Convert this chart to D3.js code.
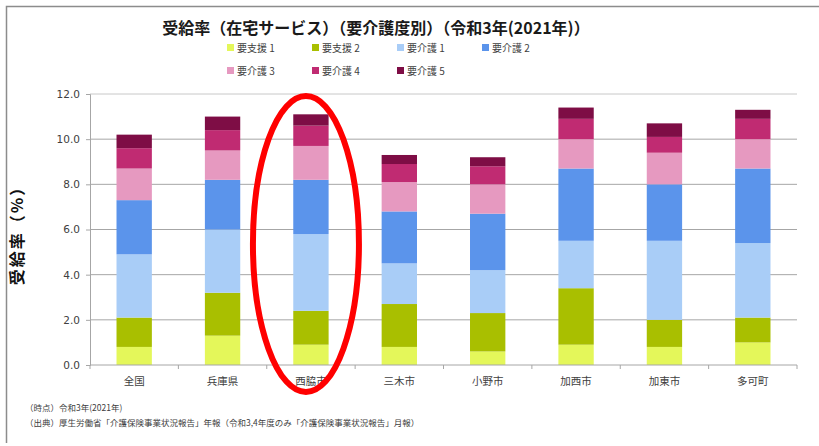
<!DOCTYPE html>
<html>
<head>
<meta charset="utf-8">
<script src="https://cdn.jsdelivr.net/npm/d3@7"></script>
<style>
  body { margin: 0; background: #fff; }
  svg text { font-family: "Noto Sans CJK JP", "Noto Sans", sans-serif; }
</style>
</head>
<body>
<div id="chart"></div>
<script>
// 地域
const areas = ["全国", "兵庫県", "西脇市", "三木市", "小野市", "加西市", "加東市", "多可町"];
// 要介護度
const levels = ["要支援 1", "要支援 2", "要介護 1", "要介護 2", "要介護 3", "要介護 4", "要介護 5"];
const levelColors = ["#e4f75a", "#a9bf00", "#a9cdf7", "#5b94eb", "#e699c0", "#c02b72", "#7e0d45"];

// 受給率 (%) 地域ごと、要介護度の順
const shien1 = [0.8, 1.3, 0.9, 0.8, 0.6, 0.9, 0.8, 1.0];
const shien2 = [1.3, 1.9, 1.5, 1.9, 1.7, 2.5, 1.2, 1.1];
const kaigo1 = [2.8, 2.8, 3.4, 1.8, 1.9, 2.1, 3.5, 3.3];
const kaigo2 = [2.4, 2.2, 2.4, 2.3, 2.5, 3.2, 2.5, 3.3];
const kaigo3 = [1.4, 1.3, 1.5, 1.3, 1.3, 1.3, 1.4, 1.3];
const kaigo4 = [0.9, 0.9, 0.9, 0.8, 0.8, 0.9, 0.7, 0.9];
const kaigo5 = [0.6, 0.6, 0.5, 0.4, 0.4, 0.5, 0.6, 0.4];
const series = [shien1, shien2, kaigo1, kaigo2, kaigo3, kaigo4, kaigo5];

const yTicks = [0, 2, 4, 6, 8, 10, 12];
const highlightArea = "西脇市";

const width = 819, height = 446;
const margin = { left: 90, right: 22, top: 94, bottom: 81 };

const svg = d3.select("#chart").append("svg")
  .attr("width", width).attr("height", height);

// 外枠
svg.append("path")
  .attr("d", `M6.5,443 V6.5 H${width}`)
  .attr("fill", "none").attr("stroke", "#8c8c8c").attr("stroke-width", 1.5);

const x = d3.scaleBand().domain(areas)
  .range([margin.left, width - margin.right]).paddingInner(0.6).paddingOuter(0.3);
const y = d3.scaleLinear().domain([0, 12]).range([height - margin.bottom, margin.top]);

// グリッド線
svg.append("g").selectAll("line").data(yTicks.filter(d => d > 0)).join("line")
  .attr("x1", margin.left).attr("x2", width - margin.right)
  .attr("y1", d => y(d)).attr("y2", d => y(d))
  .attr("stroke", d => d === 12 ? "#c8c8c8" : "#a6a6a6").attr("stroke-width", 1);

// 積み上げ
const rows = areas.map((a, i) => {
  const r = { area: a };
  levels.forEach((l, j) => r[l] = series[j][i]);
  return r;
});
const stacked = d3.stack().keys(levels)(rows);

svg.append("g").selectAll("g").data(stacked).join("g")
  .attr("fill", (d, i) => levelColors[i])
  .selectAll("rect").data(d => d).join("rect")
  .attr("x", d => x(d.data.area))
  .attr("width", x.bandwidth())
  .attr("y", d => y(d[1]))
  .attr("height", d => y(d[0]) - y(d[1]));

// Y軸
const yAxis = svg.append("g")
  .attr("transform", `translate(${margin.left},0)`)
  .call(d3.axisLeft(y).tickValues(yTicks).tickFormat(d3.format(".1f")).tickSize(4).tickPadding(6));
yAxis.select(".domain").attr("stroke", "#a6a6a6");
yAxis.selectAll(".tick line").attr("stroke", "#a6a6a6");
yAxis.selectAll("text").attr("fill", "#404040").style("font-size", "10.5px")
  .style("font-family", "Verdana, 'DejaVu Sans', sans-serif");

// X軸 (区切り目盛)
const xg = svg.append("g").attr("transform", `translate(0,${y(0)})`);
xg.append("line").attr("x1", margin.left).attr("x2", width - margin.right)
  .attr("stroke", "#a6a6a6");
const bounds = d3.range(areas.length + 1).map(i => margin.left + i * (width - margin.right - margin.left) / areas.length);
xg.selectAll(".sep").data(bounds).join("line").attr("class", "sep")
  .attr("x1", d => d).attr("x2", d => d).attr("y1", 0).attr("y2", 4)
  .attr("stroke", "#a6a6a6");
xg.selectAll(".lab").data(areas).join("text").attr("class", "lab")
  .attr("x", d => x(d) + x.bandwidth() / 2).attr("y", 20)
  .attr("text-anchor", "middle").attr("fill", "#404040")
  .style("font-size", "10.5px").text(d => d);

// 軸タイトル
svg.append("text")
  .attr("transform", `translate(23,${(y(0) + y(12)) / 2 + 2}) rotate(-90)`)
  .attr("text-anchor", "middle")
  .style("font-size", "16px").style("font-weight", "bold").attr("fill", "#111")
  .style("letter-spacing", "2px")
  .text("受給率（%）");

// タイトル
svg.append("text")
  .attr("x", 376).attr("y", 34).attr("text-anchor", "middle")
  .style("font-size", "16px").style("font-weight", "bold").attr("fill", "#1a1a1a")
  .text("受給率（在宅サービス）（要介護度別）（令和3年(2021年)）");

// 凡例
const legend = svg.append("g").selectAll("g").data(levels).join("g")
  .attr("transform", (d, i) => `translate(${227 + (i % 4) * 85},${i < 4 ? 48 : 71})`);
legend.append("rect").attr("x", 0).attr("y", -4).attr("width", 7).attr("height", 7)
  .attr("fill", (d, i) => levelColors[i]);
legend.append("text").attr("x", 10).attr("y", 3.5)
  .style("font-size", "10px").attr("fill", "#404040").text(d => d);

// 注記
svg.append("text").attr("x", 25).attr("y", 411)
  .style("font-size", "8.5px").attr("fill", "#404040").text("（時点）令和3年(2021年)");
svg.append("text").attr("x", 25).attr("y", 426)
  .style("font-size", "8.5px").attr("fill", "#404040")
  .text("（出典）厚生労働省「介護保険事業状況報告」年報（令和3,4年度のみ「介護保険事業状況報告」月報）");

// 強調 (赤い楕円)
svg.append("ellipse")
  .attr("cx", x(highlightArea) + x.bandwidth() / 2 - 5)
  .attr("cy", 244).attr("rx", 53).attr("ry", 148)
  .attr("fill", "none").attr("stroke", "#ff0000").attr("stroke-width", 6);
</script>
</body>
</html>
